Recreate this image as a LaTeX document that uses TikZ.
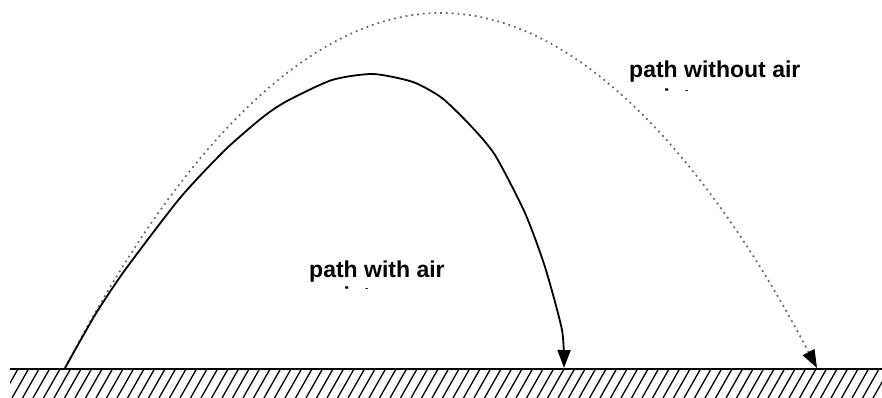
\documentclass[tikz,border=0pt]{standalone}
\usepackage{fontspec}
\setmainfont{Liberation Sans}
\usetikzlibrary{arrows.meta}
\begin{document}
\begin{tikzpicture}[x=1pt,y=-1pt,
  traj/.style={line width=1.8pt,black},
  free/.style={line width=1.7pt,black!60,dash pattern=on 1.8pt off 4pt},
  tipA/.style={-{Triangle[length=18pt,width=13pt,color=black]}},
  lbl/.style={font=\bfseries\fontsize{23}{27}\selectfont,anchor=base west,inner sep=0pt},
  hatch/.style={line width=1.3pt,black},
  groundline/.style={line width=1.8pt,black}]
\useasboundingbox (0,0) rectangle (882,398);
% key points
\coordinate (launch) at (65,368);
\coordinate (apex) at (441,13);
\coordinate (landfree) at (817,368);
\coordinate (landair) at (564,368);
\coordinate (gl) at (10,369);
\coordinate (gr) at (882,369);
% ground hatching
\begin{scope}
  \clip (10,369) rectangle (882,398);
  \foreach \i in {0,...,86} {
    \draw[hatch] (18+\i*10.5,369) -- ++(-16.5,29);
  }
\end{scope}
\draw[groundline] (gl) -- (gr);
% path without air resistance
\draw[free,tipA] (launch) parabola bend (apex) (landfree);
% path with air resistance
\draw[traj,tipA] plot[smooth,tension=0.4] coordinates {
  (65,368) (95,315) (125,270) (180,198) (225,150) (263,117) (287,101)
  (332,80) (373,74) (413,82) (442,98) (470,125) (495,155) (525,213)
  (545,267) (562,330) (564,368)};
% labels (second line clipped as in the picture)
\node[lbl] (lblfree) at (629,78) {path without air};
\begin{scope}
  \clip (600,84) rectangle (840,90.8);
  \node[lbl] (lblfreeb) at (629,105.5) {resistance};
\end{scope}
\node[lbl] (lblair) at (309,277) {path with air};
\begin{scope}
  \clip (290,282) rectangle (470,288.8);
  \node[lbl] (lblairb) at (309,303.5) {resistance};
\end{scope}
\end{tikzpicture}
\end{document}
